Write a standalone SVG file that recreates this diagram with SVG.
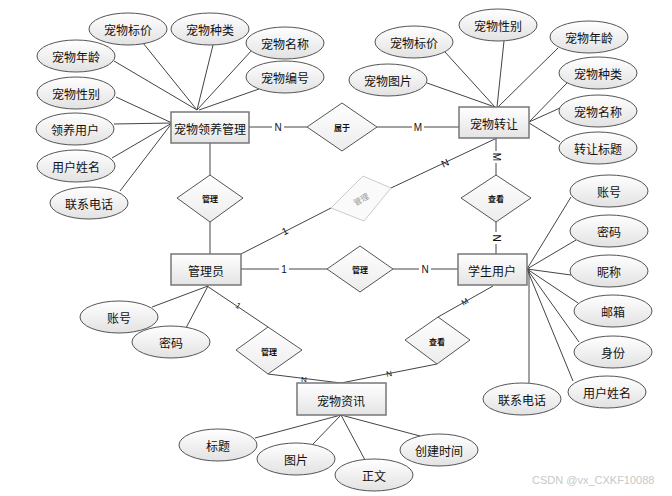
<svg xmlns="http://www.w3.org/2000/svg" width="672" height="496" viewBox="0 0 672 496">
<defs>
<linearGradient id="gE" x1="0" y1="0" x2="0" y2="1"><stop offset="0" stop-color="#ffffff"/><stop offset="1" stop-color="#e2e2e2"/></linearGradient>
<linearGradient id="gR" x1="0" y1="0" x2="0" y2="1"><stop offset="0" stop-color="#ffffff"/><stop offset="1" stop-color="#e4e4e4"/></linearGradient>
<linearGradient id="gD" x1="0" y1="0" x2="0" y2="1"><stop offset="0" stop-color="#ffffff"/><stop offset="1" stop-color="#ececec"/></linearGradient>
<style>
.e{fill:url(#gE);stroke:#555;stroke-width:1}
.r{fill:url(#gR);stroke:#777;stroke-width:1.5}
.d{fill:url(#gD);stroke:#555;stroke-width:1}
.df{fill:#fafafa;stroke:#ccc;stroke-width:1}
.ln{stroke:#444;stroke-width:1;fill:none}
text{font-family:"Noto Sans CJK SC","Microsoft YaHei",sans-serif;font-size:12px;fill:#111;text-anchor:middle;dominant-baseline:central}
.s{font-size:8px;font-weight:bold}
.c{font-family:"Liberation Sans",Arial,sans-serif;font-size:10px}
.w{font-family:"Liberation Sans",Arial,sans-serif;font-size:11px;fill:#c8c8c8;text-anchor:start}
</style>
</defs>
<rect width="672" height="496" fill="#fff"/>
<g id="connectors">
<!-- 宠物领养管理 attributes -->
<line class="ln" x1="143" y1="43" x2="197" y2="110"/>
<line class="ln" x1="213" y1="45" x2="197" y2="110"/>
<line class="ln" x1="252" y1="50" x2="197" y2="110"/>
<line class="ln" x1="259" y1="89" x2="199" y2="110"/>
<line class="ln" x1="114" y1="61" x2="197" y2="110"/>
<line class="ln" x1="116" y1="97" x2="172" y2="123"/>
<line class="ln" x1="114" y1="124" x2="172" y2="123"/>
<line class="ln" x1="112" y1="158" x2="172" y2="123"/>
<line class="ln" x1="120" y1="191" x2="172" y2="123"/>
<!-- 宠物转让 attributes -->
<line class="ln" x1="427" y1="83" x2="495" y2="107"/>
<line class="ln" x1="445" y1="52" x2="495" y2="107"/>
<line class="ln" x1="504" y1="41" x2="497" y2="107"/>
<line class="ln" x1="558" y1="48" x2="498" y2="107"/>
<line class="ln" x1="567" y1="83" x2="529" y2="122"/>
<line class="ln" x1="560" y1="108" x2="529" y2="122"/>
<line class="ln" x1="560" y1="142" x2="529" y2="123"/>
<!-- 学生用户 attributes -->
<line class="ln" x1="571" y1="197" x2="527" y2="269"/>
<line class="ln" x1="576" y1="240" x2="527" y2="269"/>
<line class="ln" x1="571" y1="275" x2="527" y2="269"/>
<line class="ln" x1="578" y1="303" x2="527" y2="269"/>
<line class="ln" x1="579" y1="342" x2="527" y2="269"/>
<line class="ln" x1="573" y1="381" x2="527" y2="269"/>
<line class="ln" x1="529" y1="268" x2="529" y2="383"/>
<!-- 管理员 attributes -->
<line class="ln" x1="208" y1="286" x2="152" y2="307"/>
<line class="ln" x1="208" y1="286" x2="186" y2="328"/>
<!-- 宠物资讯 attributes -->
<line class="ln" x1="341" y1="415" x2="255" y2="438"/>
<line class="ln" x1="341" y1="415" x2="313" y2="444"/>
<line class="ln" x1="341" y1="415" x2="365" y2="460"/>
<line class="ln" x1="341" y1="415" x2="420" y2="436"/>
<!-- relationships -->
<line class="ln" x1="249" y1="127" x2="307" y2="127"/>
<line class="ln" x1="377" y1="127" x2="459" y2="127"/>
<line class="ln" x1="210" y1="143" x2="210" y2="175"/>
<line class="ln" x1="210" y1="222" x2="210" y2="254"/>
<line class="ln" x1="496" y1="138" x2="496" y2="175"/>
<line class="ln" x1="496" y1="222" x2="496" y2="254"/>
<line class="ln" x1="241" y1="269" x2="327" y2="269"/>
<line class="ln" x1="393" y1="269" x2="458" y2="269"/>
<line class="ln" x1="241" y1="254" x2="331" y2="208"/>
<line class="ln" x1="391" y1="188" x2="497" y2="138"/>
<line class="ln" x1="207" y1="286" x2="268" y2="327"/>
<line class="ln" x1="268" y1="374" x2="341" y2="383"/>
<line class="ln" x1="493" y1="286" x2="438" y2="317"/>
<line class="ln" x1="437" y1="364" x2="341" y2="383"/>
<g>
<rect x="272" y="120" width="12" height="14" fill="#fff"/><text class="c" x="278" y="127">N</text>
<rect x="412" y="120" width="12" height="14" fill="#fff"/><text class="c" x="418" y="127">M</text>
<rect x="490" y="151" width="12" height="12" fill="#fff"/><text class="c" x="496" y="157" transform="rotate(90 496 157)">M</text>
<rect x="490" y="232" width="12" height="12" fill="#fff"/><text class="c" x="496" y="238" transform="rotate(90 496 238)">N</text>
<rect x="279" y="262" width="10" height="14" fill="#fff"/><text class="c" x="284" y="269">1</text>
<rect x="419" y="262" width="12" height="14" fill="#fff"/><text class="c" x="425" y="269">N</text>
<text class="c" x="285" y="231" transform="rotate(-27 285 231)">1</text>
<text class="c" x="445" y="163" transform="rotate(-25 445 163)">N</text>
<text class="c" x="238" y="306" style="font-size:8px" transform="rotate(34 238 306)">1</text>
<text class="c" x="304" y="379" style="font-size:8px">N</text>
<text class="c" x="465" y="302" style="font-size:8px" transform="rotate(-29 465 302)">M</text>
<text class="c" x="389" y="374" style="font-size:8px" transform="rotate(-11 389 374)">N</text>
</g>
</g>
<g id="rel-belong"><polygon class="d" points="307,127 342,103 377,127 342,151"/><text class="s" x="342" y="127">属于</text></g>
<g id="rel-manage-pet"><polygon class="d" points="177,198 210,175 243,198 210,222"/><text class="s" x="210" y="198">管理</text></g>
<g id="rel-view-transfer"><polygon class="d" points="461,198 496,175 531,198 496,222"/><text class="s" x="496" y="198">查看</text></g>
<g id="rel-manage-transfer"><polygon class="df" points="331,208 363,176 391,188 364,221"/><text class="s" x="361" y="199" style="fill:#999;font-weight:normal" transform="rotate(-30 361 199)">管理</text></g>
<g id="rel-manage-student"><polygon class="d" points="327,269 360,246 393,269 360,292"/><text class="s" x="360" y="269">管理</text></g>
<g id="rel-manage-news"><polygon class="d" points="236,350 268,327 302,350 268,374"/><text class="s" x="269" y="351">管理</text></g>
<g id="rel-view-news"><polygon class="d" points="405,340 438,317 470,340 437,364"/><text class="s" x="437" y="341">查看</text></g>
<g id="ent-adopt"><rect class="r" x="171" y="112" width="78" height="31"/><text x="210" y="128">宠物领养管理</text></g>
<g id="ent-transfer"><rect class="r" x="459" y="107" width="70" height="31"/><text x="494" y="123">宠物转让</text></g>
<g id="ent-admin"><rect class="r" x="171" y="254" width="70" height="31"/><text x="206" y="270">管理员</text></g>
<g id="ent-student"><rect class="r" x="458" y="254" width="69" height="31"/><text x="492" y="270">学生用户</text></g>
<g id="ent-news"><rect class="r" x="297" y="383" width="89" height="32"/><text x="341" y="400">宠物资讯</text></g>
<g id="a1"><ellipse class="e" cx="128" cy="29" rx="39" ry="16"/><text x="128" y="29">宠物标价</text></g>
<g id="a2"><ellipse class="e" cx="210" cy="29" rx="39" ry="16"/><text x="210" y="29">宠物种类</text></g>
<g id="a3"><ellipse class="e" cx="285" cy="43" rx="39" ry="16"/><text x="285" y="43">宠物名称</text></g>
<g id="a4"><ellipse class="e" cx="285" cy="77" rx="39" ry="16"/><text x="285" y="77">宠物编号</text></g>
<g id="a5"><ellipse class="e" cx="76" cy="56" rx="39" ry="16"/><text x="76" y="56">宠物年龄</text></g>
<g id="a6"><ellipse class="e" cx="76" cy="93" rx="39" ry="16"/><text x="76" y="93">宠物性别</text></g>
<g id="a7"><ellipse class="e" cx="75" cy="129" rx="39" ry="16"/><text x="75" y="129">领养用户</text></g>
<g id="a8"><ellipse class="e" cx="76" cy="166" rx="39" ry="16"/><text x="76" y="166">用户姓名</text></g>
<g id="a9"><ellipse class="e" cx="89" cy="203" rx="39" ry="16"/><text x="89" y="203">联系电话</text></g>
<g id="b1"><ellipse class="e" cx="414" cy="42" rx="39" ry="16"/><text x="414" y="42">宠物标价</text></g>
<g id="b2"><ellipse class="e" cx="498" cy="25" rx="39" ry="16"/><text x="498" y="25">宠物性别</text></g>
<g id="b3"><ellipse class="e" cx="589" cy="37" rx="39" ry="16"/><text x="589" y="37">宠物年龄</text></g>
<g id="b4"><ellipse class="e" cx="388" cy="80" rx="39" ry="16"/><text x="388" y="80">宠物图片</text></g>
<g id="b5"><ellipse class="e" cx="598" cy="73" rx="39" ry="16"/><text x="598" y="73">宠物种类</text></g>
<g id="b6"><ellipse class="e" cx="598" cy="111" rx="39" ry="16"/><text x="598" y="111">宠物名称</text></g>
<g id="b7"><ellipse class="e" cx="598" cy="148" rx="39" ry="16"/><text x="598" y="148">转让标题</text></g>
<g id="c1"><ellipse class="e" cx="609" cy="191" rx="39" ry="16"/><text x="609" y="191">账号</text></g>
<g id="c2"><ellipse class="e" cx="609" cy="231" rx="39" ry="16"/><text x="609" y="231">密码</text></g>
<g id="c3"><ellipse class="e" cx="609" cy="271" rx="39" ry="16"/><text x="609" y="271">昵称</text></g>
<g id="c4"><ellipse class="e" cx="613" cy="311" rx="39" ry="16"/><text x="613" y="311">邮箱</text></g>
<g id="c5"><ellipse class="e" cx="613" cy="352" rx="39" ry="16"/><text x="613" y="352">身份</text></g>
<g id="c6"><ellipse class="e" cx="607" cy="392" rx="39" ry="16"/><text x="607" y="392">用户姓名</text></g>
<g id="c7"><ellipse class="e" cx="522" cy="399" rx="39" ry="16"/><text x="522" y="399">联系电话</text></g>
<g id="d1"><ellipse class="e" cx="119" cy="317" rx="39" ry="16"/><text x="119" y="317">账号</text></g>
<g id="d2"><ellipse class="e" cx="171" cy="342" rx="39" ry="16"/><text x="171" y="342">密码</text></g>
<g id="n1"><ellipse class="e" cx="218" cy="445" rx="39" ry="16"/><text x="218" y="445">标题</text></g>
<g id="n2"><ellipse class="e" cx="296" cy="459" rx="39" ry="16"/><text x="296" y="459">图片</text></g>
<g id="n3"><ellipse class="e" cx="374" cy="475" rx="39" ry="16"/><text x="374" y="475">正文</text></g>
<g id="n4"><ellipse class="e" cx="439" cy="450" rx="39" ry="16"/><text x="439" y="450">创建时间</text></g>
<text class="w" x="532" y="480">CSDN @vx_CXKF10088</text>
</svg>
